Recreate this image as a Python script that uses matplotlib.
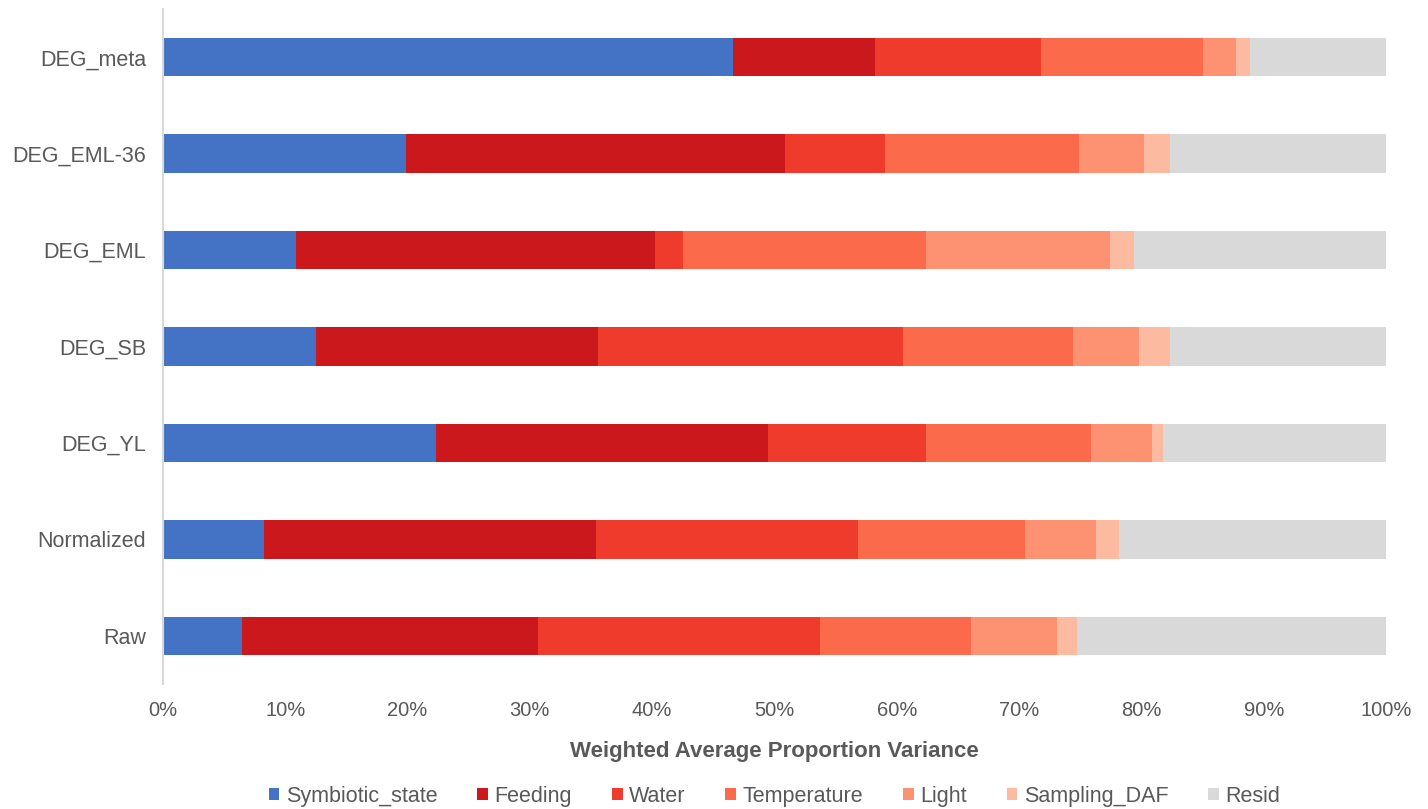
import matplotlib.pyplot as plt
from matplotlib.ticker import PercentFormatter
import numpy as np

plt.rcParams['font.family'] = ['Liberation Sans', 'DejaVu Sans']

samples = ['DEG_meta', 'DEG_EML-36', 'DEG_EML', 'DEG_SB', 'DEG_YL', 'Normalized', 'Raw']
factors = ['Symbiotic_state', 'Feeding', 'Water', 'Temperature', 'Light', 'Sampling_DAF', 'Resid']

symbiotic_state = [46.6, 19.9, 10.9, 12.5, 22.3, 8.3, 6.5]
feeding = [11.6, 31.0, 29.3, 23.1, 27.2, 27.1, 24.2]
water = [13.6, 8.1, 2.3, 24.9, 12.9, 21.4, 23.0]
temperature = [13.2, 15.9, 19.9, 13.9, 13.5, 13.7, 12.4]
light = [2.7, 5.3, 15.0, 5.4, 5.0, 5.8, 7.0]
sampling_daf = [1.2, 2.1, 2.0, 2.5, 0.9, 1.9, 1.6]
resid = [11.1, 17.7, 20.6, 17.7, 18.2, 21.8, 25.3]

colors = ['#4472c4', '#cb181d', '#ef3b2c', '#fb6a4a', '#fc9272', '#fcbba1', '#d9d9d9']

series = [symbiotic_state, feeding, water, temperature, light, sampling_daf, resid]

fig = plt.figure(figsize=(14.28, 8.09), dpi=100)
ax = fig.add_axes([0.1141, 0.1545, 0.8565, 0.8344])

y = np.arange(len(samples))[::-1]
left = np.zeros(len(samples))
for name, vals, c in zip(factors, series, colors):
    vals = np.array(vals)
    ax.barh(y, vals, left=left, height=0.40, color=c, label=name)
    left += vals

ax.set_xlim(0, 100)
ax.set_ylim(-0.5, len(samples) - 0.5)
ax.set_xticks(np.arange(0, 101, 10))
ax.xaxis.set_major_formatter(PercentFormatter(decimals=0))
ax.set_yticks(y)
ax.set_yticklabels(samples)
ax.tick_params(axis='both', length=0, colors='#595959')
ax.tick_params(axis='x', pad=12, labelsize=14.5)
ax.tick_params(axis='y', pad=12, labelsize=15.5)

for s in ['top', 'right', 'bottom']:
    ax.spines[s].set_visible(False)
ax.spines['left'].set_color('#d9d9d9')
ax.spines['left'].set_linewidth(1.5)

ax.set_xlabel('Weighted Average Proportion Variance', fontsize=16,
              fontweight='bold', color='#595959', labelpad=15)

ax.legend(loc='center', bbox_to_anchor=(0.5, -0.166), ncol=7, frameon=False,
          fontsize=15.5, handlelength=0.5, handleheight=0.5, handletextpad=0.3,
          columnspacing=1.85, borderpad=0, labelcolor='#595959')

fig.savefig('out.png', dpi=100)
